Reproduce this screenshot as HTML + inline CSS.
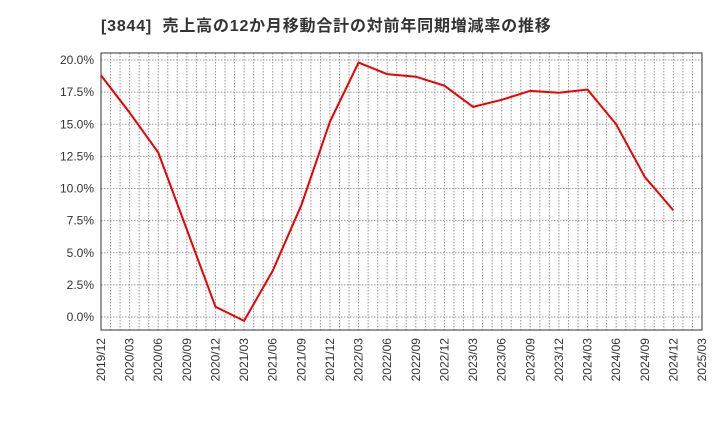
<!DOCTYPE html>
<html><head><meta charset="utf-8"><style>
body{margin:0;background:#fff;font-family:"Liberation Sans","Noto Sans CJK JP",sans-serif}
</style></head><body>
<svg id="c" width="720" height="440" xmlns="http://www.w3.org/2000/svg">
<text x="101" y="31" font-size="16" font-weight="bold" fill="#333" letter-spacing="0.8" xml:space="preserve" font-family="Liberation Sans, Noto Sans CJK JP, sans-serif">[3844]  売上高の12か月移動合計の対前年同期増減率の推移</text>
<g id="grid"></g><g id="axes"></g><g id="series"></g>
</svg>
<script>
const categories=["2019/12","2020/03","2020/06","2020/09","2020/12","2021/03","2021/06","2021/09","2021/12","2022/03","2022/06","2022/09","2022/12","2023/03","2023/06","2023/09","2023/12","2024/03","2024/06","2024/09","2024/12","2025/03"];
const values=[18.8,15.9,12.8,6.8,0.8,-0.3,3.6,8.7,15.2,19.8,18.9,18.7,18.0,16.35,16.9,17.6,17.45,17.7,15.0,10.9,8.3];
const yTicks=[0,2.5,5,7.5,10,12.5,15,17.5,20];
const yTickLabels=["0.0%","2.5%","5.0%","7.5%","10.0%","12.5%","15.0%","17.5%","20.0%"];
const L=101,R=702,T=53,B=330;
const NS="http://www.w3.org/2000/svg";
const xs=i=>L+(R-L)*i/(categories.length-1);
const ys=v=>317-(317-60)*v/20;
function mk(t,a,p){const e=document.createElementNS(NS,t);for(const k in a)e.setAttribute(k,a[k]);p.appendChild(e);return e;}
const grid=document.getElementById('grid'),axes=document.getElementById('axes'),ser=document.getElementById('series');
const months=(categories.length-1)*3;
for(let m=1;m<months;m++){const x=L+(R-L)*m/months;
const g=mk('line',{x1:x,x2:x,y1:T,y2:B,stroke:'#999','stroke-dasharray':'1.5,1.5','stroke-width':1},grid);
}
yTicks.forEach((v,i)=>{const y=ys(v);
const g=mk('line',{x1:L,x2:R,y1:y,y2:y,stroke:'#999','stroke-dasharray':'1.5,1.5','stroke-width':1},grid);

const t=mk('text',{x:L-7,y:y+4,'text-anchor':'end','font-size':12,fill:'#333'},axes);t.textContent=yTickLabels[i];
});
categories.forEach((c,i)=>{const x=xs(i);
const t=mk('text',{x:0,y:0,'text-anchor':'end','font-size':12,fill:'#333',transform:`translate(${x+4},${B+8}) rotate(-90)`},axes);t.textContent=c;
});
const f=mk('rect',{x:L,y:T,width:R-L,height:B-T,fill:'none',stroke:'#333','stroke-width':1},axes);

const p=mk('polyline',{points:values.map((v,i)=>xs(i)+','+ys(v)).join(' '),fill:'none',stroke:'#e00','stroke-width':2},ser);

</script>
</body></html>
